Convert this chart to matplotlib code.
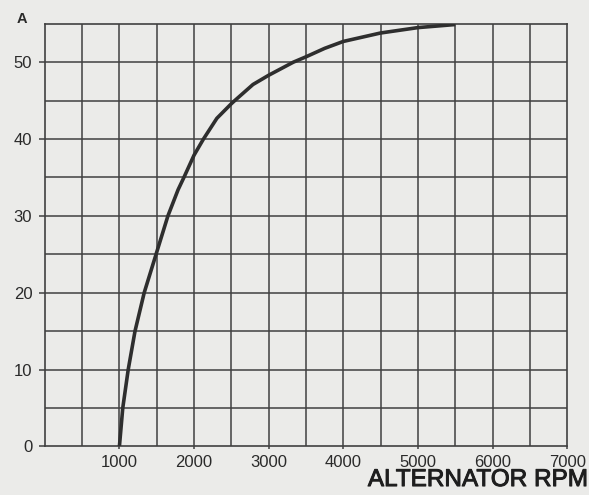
import matplotlib.pyplot as plt
import matplotlib.patheffects as pe
import numpy as np

# data
rpm = [1000, 1045, 1118, 1209, 1332, 1491, 1650, 1786, 1864, 2000, 2126, 2306, 2500,
	2545, 2790, 3000, 3330, 3500, 3750, 4000, 4500, 5000, 5500]
amps = [0, 5, 10, 15, 20, 25, 30, 33.4, 35, 37.9, 40, 42.7, 44.6,
	45, 47.1, 48.3, 50, 50.7, 51.8, 52.7, 53.8, 54.5, 54.9]

x_ticks = [1000, 2000, 3000, 4000, 5000, 6000, 7000]
y_ticks = [0, 10, 20, 30, 40, 50]

plt.rcParams['font.family'] = ['Liberation Sans', 'DejaVu Sans']

bg = '#ebebe9'
ink = '#404040'

fig = plt.figure(figsize=(5.89, 4.95), dpi=100, facecolor=bg)
ax = fig.add_axes([0.076, 0.098, 0.887, 0.854], facecolor=bg)

# grid every 500 rpm / 5 A
for gx in np.arange(500, 7000, 500):
	ax.axvline(gx, color=ink, lw=1.1, zorder=1)
for gy in np.arange(5, 55, 5):
	ax.axhline(gy, color=ink, lw=1.1, zorder=1)

ax.plot(rpm, amps, color='#2e2e2e', lw=2.6, zorder=3, solid_capstyle='butt', solid_joinstyle='round')

ax.set_xlim(0, 7000)
ax.set_ylim(0, 55)
for s in ax.spines.values():
	s.set_color(ink)
	s.set_linewidth(1.2)

ax.set_xticks(x_ticks)
ax.set_xticklabels([str(v) for v in x_ticks])
ax.set_yticks(y_ticks)
ax.set_yticklabels([str(v) for v in y_ticks])
ax.tick_params(axis='x', length=2, width=1.1, color=ink, labelsize=12, labelcolor='#2a2a2a', pad=4)
ax.tick_params(axis='y', length=4, width=1.1, color=ink, labelsize=12, labelcolor='#2a2a2a', pad=5)

fig.text(0.037, 0.962, 'A', fontsize=10.5, fontweight='bold', color='#2a2a2a', ha='center', va='center')
fig.text(0.997, 0.008, 'ALTERNATOR RPM', fontsize=17.5, color='#1e1e1e', ha='right', va='bottom',
	path_effects=[pe.withStroke(linewidth=0.7, foreground='#1e1e1e')])

fig.savefig('out.png', dpi=100, facecolor=bg)
